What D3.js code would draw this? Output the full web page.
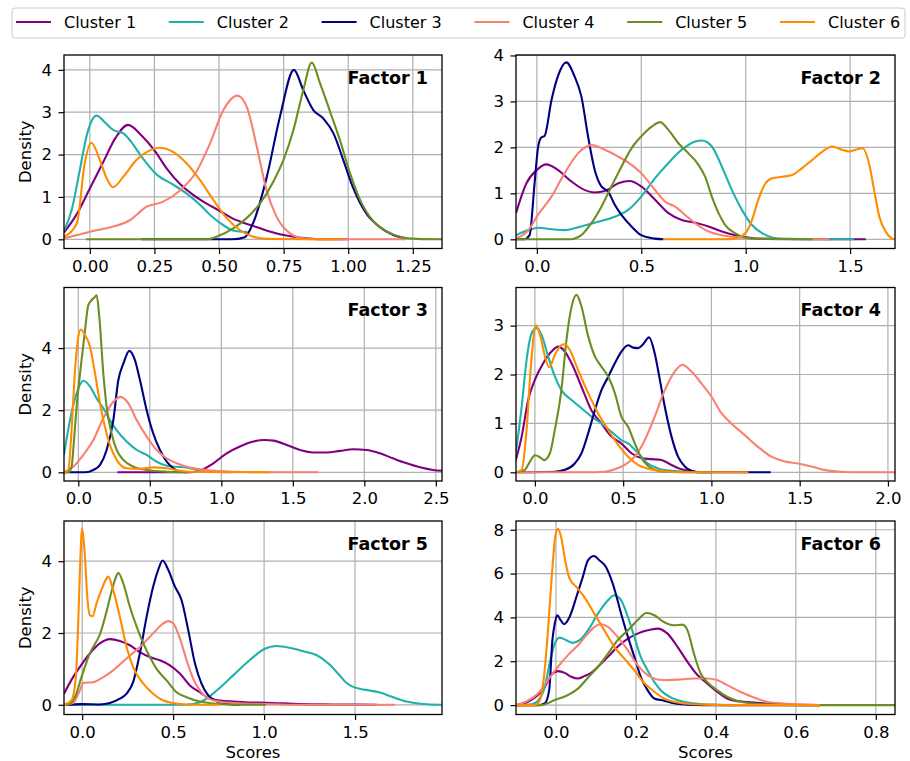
<!DOCTYPE html>
<head>
   <title>Factor score densities by cluster</title>
   <meta charset="utf-8">
   <script src="https://d3js.org/d3.v7.min.js"></script>
   <style>
      body {
         margin: 0;
         background: #ffffff;
      }

      text {
         font-family: "DejaVu Sans", sans-serif;
         fill: #000000;
      }

      .tick text {
         font-size: 16.5px;
      }

      .tick line {
         stroke: #000000;
         stroke-width: 1.2;
      }

      path.domain {
         display: none;
      }

      line.grid {
         stroke: #b0b0b0;
         stroke-width: 1.2;
      }

      rect.frame {
         fill: none;
         stroke: #000000;
         stroke-width: 1.3;
      }

      path.kde {
         fill: none;
         stroke-width: 2.1;
         stroke-linejoin: round;
      }

      text.axisLabel {
         font-size: 16.5px;
      }

      text.factor {
         font-size: 17.5px;
         font-weight: bold;
      }

      text.legendText {
         font-size: 16px;
      }
   </style>
</head>

<body>
   <script>
      const width = 910;
      const height = 761;

      // ---- data ----
      const clusterNames = ['Cluster 1', 'Cluster 2', 'Cluster 3', 'Cluster 4', 'Cluster 5', 'Cluster 6'];
      const clusterColors = ['#800080', '#20b2aa', '#000080', '#fa8072', '#6b8e23', '#ff8c00'];
      const factorNames = ['Factor 1', 'Factor 2', 'Factor 3', 'Factor 4', 'Factor 5', 'Factor 6'];

      const xDomains = [[-0.1, 1.363], [-0.1, 1.715], [-0.1, 2.543], [-0.107, 2.04], [-0.1, 1.978], [-0.1, 0.848]];
      const yDomains = [[-0.217, 4.35], [-0.2, 4.01], [-0.28, 5.95], [-0.178, 3.78], [-0.27, 5.12], [-0.43, 8.4]];
      const xTicks = [[0, 0.25, 0.5, 0.75, 1.0, 1.25], [0, 0.5, 1.0, 1.5], [0, 0.5, 1.0, 1.5, 2.0, 2.5],
         [0, 0.5, 1.0, 1.5, 2.0], [0, 0.5, 1.0, 1.5], [0, 0.2, 0.4, 0.6, 0.8]];
      const xTickFormats = ['.2f', '.1f', '.1f', '.1f', '.1f', '.1f'];
      const yTicks = [[0, 1, 2, 3, 4], [0, 1, 2, 3, 4], [0, 2, 4], [0, 1, 2, 3], [0, 2, 4], [0, 2, 4, 6, 8]];

      // each factor: one [x, density] list per cluster
      const factor1 = [
         [[-0.1, 0.16], [-0.05, 0.6], [0, 1.2], [0.05, 1.8], [0.1, 2.4], [0.148, 2.7], [0.2, 2.45], [0.25, 2.1], [0.3, 1.65], [0.35, 1.3], [0.4, 1.05], [0.45, 0.85], [0.5, 0.68], [0.55, 0.5], [0.6, 0.38], [0.65, 0.28], [0.7, 0.18], [0.75, 0.1], [0.8, 0.05], [0.85, 0.02], [0.9, 0], [1.0, 0]],
         [[-0.1, 0.2], [-0.07, 0.7], [-0.04, 1.6], [-0.01, 2.5], [0.026, 2.92], [0.06, 2.75], [0.09, 2.58], [0.13, 2.5], [0.16, 2.3], [0.2, 1.95], [0.26, 1.52], [0.32, 1.3], [0.37, 1.1], [0.42, 0.85], [0.47, 0.55], [0.52, 0.32], [0.56, 0.2], [0.61, 0.17]],
         [[0.2, 0], [0.55, 0], [0.6, 0.05], [0.633, 0.4], [0.684, 1.45], [0.736, 2.9], [0.79, 4.0], [0.826, 3.52], [0.865, 3.05], [0.904, 2.85], [0.943, 2.5], [0.981, 1.87], [1.02, 1.2], [1.07, 0.61], [1.12, 0.3], [1.175, 0.1], [1.21, 0.03], [1.22, 0]],
         [[-0.1, 0.02], [-0.05, 0.1], [0, 0.18], [0.09, 0.3], [0.155, 0.45], [0.22, 0.77], [0.284, 0.89], [0.35, 1.16], [0.413, 1.6], [0.465, 2.26], [0.517, 3.05], [0.571, 3.39], [0.607, 3.13], [0.646, 2.19], [0.684, 1.16], [0.723, 0.53], [0.775, 0.14], [0.81, 0.04], [0.86, 0], [1.22, 0]],
         [[-0.015, 0], [0.45, 0], [0.49, 0.06], [0.555, 0.26], [0.607, 0.5], [0.659, 0.85], [0.71, 1.36], [0.749, 1.87], [0.788, 2.58], [0.826, 3.52], [0.859, 4.17], [0.891, 3.68], [0.93, 3.01], [0.968, 2.34], [1.007, 1.56], [1.046, 0.93], [1.098, 0.42], [1.15, 0.18], [1.2, 0.06], [1.265, 0.01], [1.363, 0]],
         [[-0.1, 0.06], [-0.05, 0.38], [-0.02, 1.79], [0.006, 2.28], [0.039, 1.87], [0.065, 1.44], [0.09, 1.23], [0.13, 1.48], [0.18, 1.87], [0.232, 2.1], [0.27, 2.16], [0.32, 2.07], [0.375, 1.79], [0.426, 1.4], [0.478, 0.93], [0.53, 0.5], [0.58, 0.22], [0.633, 0.06], [0.684, 0.01], [0.98, 0]]
      ];

      const factor2 = [
         [[-0.1, 0.57], [-0.05, 1.22], [0, 1.51], [0.045, 1.63], [0.1, 1.51], [0.165, 1.26], [0.23, 1.07], [0.277, 1.02], [0.325, 1.05], [0.39, 1.22], [0.445, 1.27], [0.5, 1.15], [0.566, 0.86], [0.63, 0.57], [0.694, 0.42], [0.758, 0.36], [0.822, 0.28], [0.886, 0.17], [0.95, 0.09], [1.01, 0.04], [1.09, 0.01], [1.575, 0]],
         [[-0.1, 0.09], [-0.04, 0.2], [0.005, 0.25], [0.07, 0.22], [0.133, 0.2], [0.213, 0.28], [0.293, 0.38], [0.373, 0.49], [0.437, 0.64], [0.5, 0.93], [0.566, 1.33], [0.63, 1.66], [0.694, 1.95], [0.758, 2.13], [0.79, 2.15], [0.838, 2.02], [0.886, 1.58], [0.934, 1.07], [0.982, 0.64], [1.03, 0.31], [1.08, 0.13], [1.127, 0.04], [1.17, 0.01], [1.52, 0]],
         [[-0.1, 0], [-0.06, 0], [-0.035, 0.09], [-0.011, 1.22], [0.005, 1.98], [0.02, 2.21], [0.037, 2.25], [0.07, 3.03], [0.1, 3.54], [0.141, 3.85], [0.181, 3.54], [0.213, 3.11], [0.245, 2.24], [0.277, 1.51], [0.309, 1.15], [0.341, 1.04], [0.373, 0.75], [0.405, 0.53], [0.453, 0.28], [0.5, 0.09], [0.566, 0.015], [0.606, 0]],
         [[-0.1, 0.02], [-0.04, 0.2], [0.005, 0.53], [0.07, 0.93], [0.133, 1.44], [0.197, 1.87], [0.261, 2.05], [0.325, 1.95], [0.39, 1.8], [0.453, 1.62], [0.5, 1.44], [0.566, 1.07], [0.614, 0.82], [0.662, 0.71], [0.71, 0.53], [0.758, 0.35], [0.822, 0.17], [0.886, 0.09], [0.966, 0.04], [1.05, 0.01], [1.4, 0]],
         [[-0.1, 0], [0.15, 0], [0.181, 0.02], [0.213, 0.09], [0.261, 0.35], [0.309, 0.71], [0.357, 1.15], [0.405, 1.58], [0.453, 1.98], [0.5, 2.24], [0.55, 2.45], [0.59, 2.55], [0.63, 2.38], [0.678, 2.09], [0.726, 1.87], [0.774, 1.62], [0.806, 1.36], [0.838, 0.93], [0.87, 0.57], [0.902, 0.31], [0.95, 0.13], [0.998, 0.04], [1.05, 0.01], [1.32, 0]],
         [[0.606, 0], [0.9, 0], [0.95, 0.02], [0.998, 0.13], [1.03, 0.42], [1.06, 0.86], [1.095, 1.22], [1.127, 1.33], [1.175, 1.36], [1.223, 1.4], [1.27, 1.55], [1.32, 1.73], [1.367, 1.91], [1.415, 2.02], [1.46, 1.95], [1.495, 1.91], [1.527, 1.95], [1.56, 1.98], [1.59, 1.66], [1.615, 1.07], [1.64, 0.49], [1.67, 0.17], [1.7, 0.02], [1.717, 0]]
      ];

      const factor3 = [
         [[0.273, 0], [0.76, 0], [0.85, 0.05], [0.944, 0.29], [1.037, 0.61], [1.13, 0.83], [1.224, 0.99], [1.3, 1.04], [1.364, 1.02], [1.457, 0.88], [1.55, 0.72], [1.643, 0.64], [1.737, 0.64], [1.83, 0.69], [1.923, 0.74], [2.016, 0.72], [2.11, 0.61], [2.2, 0.45], [2.296, 0.29], [2.39, 0.16], [2.48, 0.075], [2.543, 0.05]],
         [[-0.1, 0.56], [-0.058, 1.68], [-0.012, 2.54], [0.035, 2.95], [0.082, 2.76], [0.128, 2.38], [0.175, 2.06], [0.221, 1.68], [0.268, 1.36], [0.338, 0.99], [0.408, 0.72], [0.478, 0.56], [0.548, 0.34], [0.618, 0.21], [0.688, 0.18], [0.758, 0.15], [0.85, 0.075], [0.944, 0.02], [1.08, 0]],
         [[-0.1, 0], [0.05, 0], [0.105, 0.075], [0.152, 0.24], [0.198, 0.72], [0.245, 1.68], [0.28, 2.97], [0.315, 3.5], [0.357, 3.91], [0.396, 3.61], [0.431, 2.97], [0.478, 2.0], [0.524, 1.25], [0.571, 0.72], [0.618, 0.34], [0.664, 0.13], [0.711, 0.02], [0.76, 0]],
         [[-0.1, 0], [-0.035, 0.18], [0.035, 0.56], [0.105, 1.04], [0.175, 1.74], [0.245, 2.27], [0.296, 2.43], [0.35, 2.22], [0.408, 1.68], [0.478, 1.15], [0.548, 0.72], [0.618, 0.45], [0.688, 0.29], [0.78, 0.15], [0.897, 0.075], [1.08, 0.02], [1.3, 0], [1.68, 0]],
         [[-0.1, 0], [-0.07, 0], [-0.047, 0.18], [-0.03, 1.04], [-0.012, 2.11], [0.012, 3.18], [0.047, 4.58], [0.07, 5.38], [0.093, 5.54], [0.117, 5.65], [0.128, 5.7], [0.147, 5.0], [0.175, 3.18], [0.198, 2.11], [0.233, 1.25], [0.268, 0.72], [0.315, 0.4], [0.385, 0.18], [0.478, 0.075], [0.618, 0.02], [0.8, 0]],
         [[-0.1, 0], [-0.07, 0.075], [-0.047, 1.36], [-0.023, 3.29], [0, 4.36], [0.016, 4.6], [0.047, 4.42], [0.082, 4.04], [0.117, 3.18], [0.152, 2.22], [0.186, 1.47], [0.221, 0.88], [0.268, 0.4], [0.338, 0.13], [0.431, 0.11], [0.524, 0.16], [0.618, 0.13], [0.711, 0.05], [0.85, 0.01], [1.34, 0]]
      ];

      const factor4 = [
         [[-0.108, 0.25], [-0.075, 0.73], [-0.038, 1.48], [0, 1.89], [0.047, 2.23], [0.094, 2.47], [0.132, 2.57], [0.17, 2.47], [0.208, 2.23], [0.264, 1.75], [0.32, 1.27], [0.377, 1.0], [0.434, 0.73], [0.49, 0.59], [0.547, 0.39], [0.604, 0.29], [0.66, 0.27], [0.717, 0.25], [0.774, 0.15], [0.83, 0.06], [0.887, 0.02], [0.93, 0]],
         [[-0.108, 0.39], [-0.075, 1.34], [-0.047, 2.3], [-0.019, 2.84], [0.009, 2.95], [0.038, 2.81], [0.075, 2.37], [0.113, 1.96], [0.15, 1.68], [0.208, 1.48], [0.264, 1.31], [0.32, 1.14], [0.377, 1.0], [0.434, 0.83], [0.49, 0.66], [0.528, 0.59], [0.585, 0.39], [0.64, 0.18], [0.698, 0.08], [0.774, 0.03], [0.868, 0.01], [1.0, 0]],
         [[-0.108, 0], [0.113, 0.01], [0.17, 0.05], [0.226, 0.18], [0.264, 0.39], [0.302, 0.8], [0.34, 1.27], [0.377, 1.68], [0.415, 1.95], [0.453, 2.23], [0.49, 2.47], [0.528, 2.6], [0.557, 2.55], [0.585, 2.54], [0.613, 2.62], [0.647, 2.76], [0.679, 2.43], [0.708, 1.89], [0.736, 1.34], [0.774, 0.73], [0.811, 0.32], [0.849, 0.12], [0.887, 0.03], [0.93, 0], [1.336, 0]],
         [[-0.108, 0], [0.34, 0], [0.396, 0.01], [0.453, 0.06], [0.509, 0.15], [0.566, 0.32], [0.623, 0.66], [0.679, 1.14], [0.736, 1.68], [0.792, 2.06], [0.836, 2.2], [0.887, 2.06], [0.943, 1.82], [1.0, 1.55], [1.057, 1.21], [1.113, 1.0], [1.189, 0.76], [1.264, 0.52], [1.34, 0.32], [1.415, 0.22], [1.49, 0.18], [1.566, 0.12], [1.64, 0.05], [1.717, 0.015], [1.8, 0], [2.04, 0]],
         [[-0.108, 0], [-0.057, 0.05], [-0.028, 0.22], [0, 0.35], [0.028, 0.31], [0.053, 0.25], [0.085, 0.39], [0.113, 0.87], [0.15, 1.68], [0.179, 2.71], [0.208, 3.39], [0.236, 3.63], [0.264, 3.39], [0.302, 2.78], [0.34, 2.37], [0.377, 2.16], [0.415, 1.96], [0.453, 1.62], [0.49, 1.14], [0.528, 0.93], [0.566, 0.59], [0.604, 0.29], [0.642, 0.13], [0.679, 0.05], [0.736, 0.01], [1.0, 0]],
         [[-0.108, 0], [-0.075, 0.05], [-0.047, 0.87], [-0.023, 2.16], [0.006, 3.01], [0.034, 2.74], [0.057, 2.37], [0.081, 2.15], [0.113, 2.4], [0.15, 2.6], [0.17, 2.62], [0.198, 2.5], [0.245, 2.09], [0.302, 1.62], [0.358, 1.21], [0.415, 0.87], [0.472, 0.56], [0.528, 0.32], [0.585, 0.15], [0.66, 0.06], [0.736, 0.02], [0.8, 0], [1.21, 0]]
      ];

      const factor5 = [
         [[-0.1, 0.31], [-0.05, 0.77], [0, 1.15], [0.042, 1.43], [0.097, 1.71], [0.152, 1.83], [0.207, 1.78], [0.262, 1.66], [0.317, 1.47], [0.372, 1.33], [0.427, 1.24], [0.482, 1.1], [0.537, 0.87], [0.592, 0.54], [0.647, 0.35], [0.702, 0.17], [0.757, 0.12], [0.83, 0.09], [0.92, 0.065], [1.01, 0.056], [1.1, 0.04], [1.2, 0.02], [1.38, 0.01], [1.62, 0]],
         [[-0.1, 0], [0.57, 0], [0.647, 0.07], [0.74, 0.4], [0.83, 0.82], [0.92, 1.24], [0.996, 1.54], [1.07, 1.64], [1.14, 1.59], [1.216, 1.49], [1.29, 1.38], [1.36, 1.12], [1.41, 0.85], [1.45, 0.62], [1.49, 0.5], [1.53, 0.44], [1.58, 0.4], [1.637, 0.34], [1.71, 0.21], [1.784, 0.09], [1.858, 0.03], [1.978, 0]],
         [[-0.1, 0], [0, 0.02], [0.097, 0.01], [0.152, 0.05], [0.207, 0.17], [0.244, 0.31], [0.28, 0.63], [0.317, 1.43], [0.354, 2.45], [0.39, 3.29], [0.418, 3.76], [0.442, 4.02], [0.473, 3.76], [0.51, 3.29], [0.546, 2.92], [0.583, 2.08], [0.62, 1.15], [0.656, 0.59], [0.693, 0.26], [0.739, 0.1], [0.794, 0.03], [0.87, 0]],
         [[-0.1, 0], [-0.05, 0.05], [-0.013, 0.4], [0.006, 0.61], [0.06, 0.63], [0.116, 0.77], [0.17, 0.96], [0.244, 1.29], [0.317, 1.61], [0.39, 1.99], [0.446, 2.27], [0.473, 2.33], [0.5, 2.27], [0.537, 1.85], [0.574, 1.24], [0.61, 0.73], [0.647, 0.4], [0.684, 0.21], [0.74, 0.1], [0.83, 0.05], [1.01, 0.02], [1.2, 0], [1.72, 0]],
         [[-0.1, 0], [-0.068, 0.03], [-0.04, 0.21], [-0.004, 0.77], [0.042, 1.43], [0.1, 2.0], [0.134, 2.6], [0.161, 3.15], [0.189, 3.6], [0.198, 3.68], [0.226, 3.38], [0.262, 2.73], [0.3, 2.17], [0.336, 1.71], [0.372, 1.33], [0.409, 1.0], [0.464, 0.68], [0.519, 0.35], [0.574, 0.21], [0.647, 0.09], [0.739, 0.03], [0.85, 0], [1.01, 0]],
         [[-0.1, 0], [-0.059, 0.12], [-0.035, 0.77], [-0.022, 2.27], [-0.013, 3.66], [0, 4.92], [0.015, 4.13], [0.028, 3.01], [0.042, 2.5], [0.057, 2.47], [0.079, 2.83], [0.106, 3.2], [0.134, 3.52], [0.143, 3.57], [0.17, 3.2], [0.207, 2.45], [0.244, 1.61], [0.28, 1.05], [0.336, 0.59], [0.39, 0.31], [0.446, 0.12], [0.5, 0.05], [0.574, 0.01], [0.757, 0]]
      ];

      const factor6 = [
         [[-0.1, 0], [-0.07, 0.15], [-0.045, 0.46], [-0.028, 0.83], [-0.012, 1.37], [0.005, 1.55], [0.022, 1.47], [0.038, 1.29], [0.055, 1.21], [0.071, 1.32], [0.088, 1.47], [0.105, 1.75], [0.13, 2.2], [0.154, 2.66], [0.18, 3.03], [0.204, 3.26], [0.229, 3.41], [0.254, 3.49], [0.279, 3.26], [0.304, 2.66], [0.329, 1.97], [0.354, 1.37], [0.378, 0.99], [0.403, 0.61], [0.428, 0.3], [0.453, 0.18], [0.478, 0.14], [0.511, 0.09], [0.544, 0.05], [0.578, 0.02], [0.66, 0]],
         [[-0.1, 0], [-0.061, 0.03], [-0.045, 0.2], [-0.028, 0.83], [-0.016, 1.9], [-0.003, 2.81], [0.009, 3.08], [0.026, 2.96], [0.042, 2.84], [0.059, 2.96], [0.08, 3.41], [0.105, 4.17], [0.13, 4.78], [0.146, 5.01], [0.163, 4.78], [0.18, 4.02], [0.196, 3.11], [0.212, 2.2], [0.229, 1.59], [0.246, 1.06], [0.262, 0.68], [0.287, 0.35], [0.32, 0.15], [0.354, 0.06], [0.395, 0.02], [0.45, 0]],
         [[-0.1, 0], [-0.045, 0], [-0.028, 0.08], [-0.017, 0.68], [-0.009, 2.96], [-0.003, 3.72], [0.003, 4.1], [0.012, 3.87], [0.02, 3.69], [0.034, 4.02], [0.051, 4.93], [0.067, 5.84], [0.08, 6.6], [0.095, 6.8], [0.109, 6.6], [0.125, 6.3], [0.142, 5.54], [0.163, 4.17], [0.18, 3.11], [0.196, 2.2], [0.212, 1.29], [0.229, 0.68], [0.246, 0.3], [0.27, 0.2], [0.295, 0.08], [0.329, 0.02], [0.37, 0], [0.66, 0]],
         [[-0.1, 0], [-0.07, 0.2], [-0.045, 0.53], [-0.02, 1.14], [0.005, 1.75], [0.03, 2.28], [0.055, 2.73], [0.08, 3.26], [0.096, 3.57], [0.113, 3.69], [0.13, 3.57], [0.154, 3.11], [0.18, 2.5], [0.204, 1.82], [0.229, 1.37], [0.254, 1.17], [0.279, 1.14], [0.312, 1.17], [0.345, 1.21], [0.378, 1.21], [0.403, 1.14], [0.428, 0.91], [0.461, 0.61], [0.495, 0.35], [0.528, 0.15], [0.561, 0.08], [0.602, 0.03], [0.66, 0]],
         [[-0.1, 0], [-0.037, 0], [-0.003, 0.23], [0.03, 0.46], [0.055, 0.75], [0.08, 1.25], [0.105, 1.75], [0.13, 2.35], [0.154, 2.96], [0.18, 3.41], [0.204, 3.87], [0.227, 4.2], [0.246, 4.1], [0.27, 3.79], [0.295, 3.64], [0.316, 3.67], [0.329, 3.41], [0.345, 2.35], [0.362, 1.44], [0.378, 1.06], [0.403, 0.68], [0.428, 0.38], [0.453, 0.2], [0.486, 0.08], [0.528, 0.03], [0.6, 0], [0.848, 0]],
         [[-0.1, 0], [-0.053, 0], [-0.04, 0.23], [-0.03, 1.29], [-0.02, 3.41], [-0.01, 6.0], [-0.002, 7.66], [0.005, 8.04], [0.013, 7.66], [0.023, 6.6], [0.034, 5.77], [0.051, 5.39], [0.071, 4.93], [0.096, 4.17], [0.121, 3.41], [0.146, 2.66], [0.171, 2.12], [0.196, 1.59], [0.22, 1.02], [0.246, 0.61], [0.27, 0.3], [0.295, 0.15], [0.329, 0.06], [0.37, 0.02], [0.42, 0], [0.66, 0]]
      ];

      const factors = [factor1, factor2, factor3, factor4, factor5, factor6];

      // ---- layout ----
      const colLeft = [64, 516];
      const colRight = [442, 895];
      const rowTop = [55, 287.5, 521];
      const rowBottom = [248.5, 481, 714.5];

      const svg = d3.select('body').append('svg')
         .attr('width', width)
         .attr('height', height);

      svg.append('rect')
         .attr('width', width)
         .attr('height', height)
         .attr('fill', '#ffffff');

      const defs = svg.append('defs');

      factors.forEach((series, i) => {
         const col = i % 2, row = Math.floor(i / 2);
         const left = colLeft[col], right = colRight[col];
         const top = rowTop[row], bottom = rowBottom[row];

         const x = d3.scaleLinear().domain(xDomains[i]).range([left, right]);
         const y = d3.scaleLinear().domain(yDomains[i]).range([bottom, top]);

         const g = svg.append('g').attr('class', 'panel');

         // grid
         g.selectAll('line.gx')
            .data(xTicks[i])
            .enter()
            .append('line')
            .attr('class', 'grid')
            .attr('x1', d => x(d)).attr('x2', d => x(d))
            .attr('y1', top).attr('y2', bottom);

         g.selectAll('line.gy')
            .data(yTicks[i])
            .enter()
            .append('line')
            .attr('class', 'grid')
            .attr('x1', left).attr('x2', right)
            .attr('y1', d => y(d)).attr('y2', d => y(d));

         defs.append('clipPath')
            .attr('id', 'clip' + i)
            .append('rect')
            .attr('x', left).attr('y', top)
            .attr('width', right - left).attr('height', bottom - top);

         const line = d3.line()
            .x(d => x(d[0]))
            .y(d => y(d[1]))
            .curve(d3.curveMonotoneX);

         g.append('g')
            .attr('clip-path', `url(#clip${i})`)
            .selectAll('path.kde')
            .data(series)
            .enter()
            .append('path')
            .attr('class', 'kde')
            .attr('stroke', (d, k) => clusterColors[k])
            .attr('d', line);

         g.append('rect')
            .attr('class', 'frame')
            .attr('x', left).attr('y', top)
            .attr('width', right - left).attr('height', bottom - top);

         g.append('g')
            .attr('transform', `translate(0, ${bottom})`)
            .call(d3.axisBottom(x)
               .tickValues(xTicks[i])
               .tickSize(5.5)
               .tickPadding(6.2)
               .tickFormat(d3.format(xTickFormats[i])));

         g.append('g')
            .attr('transform', `translate(${left}, 0)`)
            .call(d3.axisLeft(y)
               .tickValues(yTicks[i])
               .tickSize(5.5)
               .tickPadding(6.5)
               .tickFormat(d3.format('d')));

         g.append('text')
            .attr('class', 'factor')
            .attr('x', right - 14)
            .attr('y', top + 28.5)
            .style('text-anchor', 'end')
            .text(factorNames[i]);

         if (col === 0) {
            g.append('text')
               .attr('class', 'axisLabel')
               .attr('transform', `translate(31, ${(top + bottom) / 2}) rotate(-90)`)
               .style('text-anchor', 'middle')
               .text('Density');
         }
         if (row === 2) {
            g.append('text')
               .attr('class', 'axisLabel')
               .attr('x', (left + right) / 2)
               .attr('y', 757.5)
               .style('text-anchor', 'middle')
               .text('Scores');
         }
      });

      // ---- legend ----
      const legend = svg.append('g').attr('class', 'legend');
      legend.append('rect')
         .attr('x', 12).attr('y', 8)
         .attr('width', 893).attr('height', 30)
         .attr('rx', 3)
         .attr('fill', '#ffffff')
         .attr('stroke', '#cccccc')
         .attr('stroke-width', 1);

      const items = legend.selectAll('g.item')
         .data(clusterNames)
         .enter()
         .append('g')
         .attr('class', 'item')
         .attr('transform', (d, k) => `translate(${16 + k * 152.8}, 0)`);

      items.append('line')
         .attr('x1', 0).attr('x2', 35)
         .attr('y1', 22).attr('y2', 22)
         .attr('stroke', (d, k) => clusterColors[k])
         .attr('stroke-width', 2);

      items.append('text')
         .attr('class', 'legendText')
         .attr('x', 48)
         .attr('y', 27.8)
         .text(d => d);
   </script>
</body>
